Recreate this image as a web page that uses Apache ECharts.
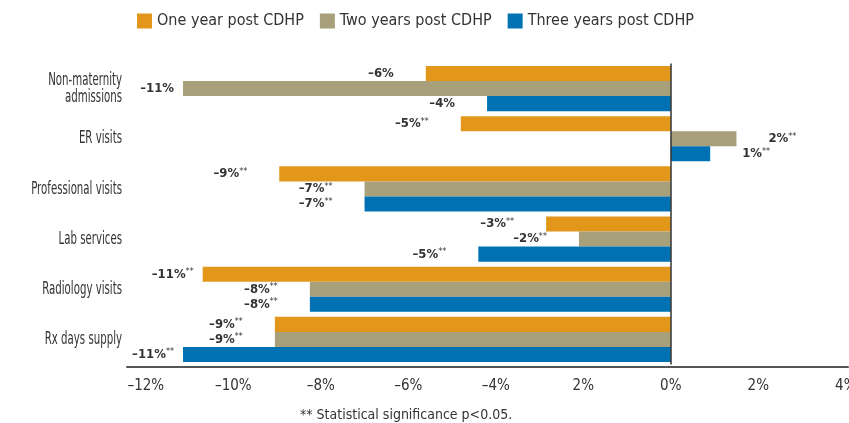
<!DOCTYPE html>
<html>
<head>
<meta charset="utf-8">
<script src="https://cdn.jsdelivr.net/npm/echarts@6/dist/echarts.min.js"></script>
<style>
  html, body { margin: 0; padding: 0; background: #fff; }
  #chart { width: 849px; height: 423px; }
</style>
</head>
<body>
<div id="chart"></div>
<script>
const categories = ['Non-maternity\nadmissions', 'ER visits', 'Professional visits', 'Lab services', 'Radiology visits', 'Rx days supply'];
const seriesNames = ['One year post CDHP', 'Two years post CDHP', 'Three years post CDHP'];

// bar lengths (percent change)
const oneYear = [-5.6, -4.8, -8.95, -2.85, -10.7, -9.05];
const twoYears = [-11.15, 1.5, -7.0, -2.1, -8.25, -9.05];
const threeYears = [-4.2, 0.9, -7.0, -4.4, -8.25, -11.15];

// printed labels and significance flags
const oneYearLabels = [-6, -5, -9, -3, -11, -9];
const twoYearsLabels = [-11, 2, -7, -2, -8, -9];
const threeYearsLabels = [-4, 1, -7, -5, -8, -11];
const oneYearSig = [false, true, true, true, true, true];
const twoYearsSig = [false, true, true, true, true, true];
const threeYearsSig = [false, true, true, true, true, true];

const tickValues = [-12, -10, -8, -6, -4, -2, 0, 2, 4];
const tickLabels = ['\u201312%', '\u201310%', '\u20138%', '\u20136%', '\u20134%', '2%', '0%', '2%', '4%'];

const colors = ['#E2961A', '#A89F7B', '#0072B4'];
const font = "'DejaVu Sans Condensed', 'Liberation Sans Narrow', sans-serif";

function makeSeries(name, values, labels, sig, color, withZero) {
  const s = {
    name: name,
    type: 'bar',
    barGap: '0%',
    barCategoryGap: '10%',
    itemStyle: { color: color },
    data: values.map((v, i) => ({
      value: v,
      label: {
        show: true,
        position: v < 0 ? 'left' : 'right',
        distance: v < -10 ? 9 : 32,
        formatter: () => {
          const n = labels[i];
          const txt = (n < 0 ? '\u2013' + Math.abs(n) : n) + '%';
          return '{v|' + txt + '}' + (sig[i] ? '{s|**}' : '');
        },
        rich: {
          v: { fontFamily: font, fontWeight: 'bold', fontSize: 13, color: '#333' },
          s: { fontFamily: font, fontSize: 9, color: '#333', padding: [0, 0, 5, 0] }
        }
      }
    }))
  };
  if (withZero) {
    s.markLine = {
      silent: true,
      symbol: 'none',
      label: { show: false },
      lineStyle: { color: '#333', width: 1.5, type: 'solid' },
      data: [{ xAxis: 0 }]
    };
  }
  return s;
}

const chart = echarts.init(document.getElementById('chart'), null, { renderer: 'canvas' });
chart.setOption({
  animation: false,
  legend: {
    top: 13,
    left: 137,
    padding: 0,
    icon: 'rect',
    itemWidth: 15,
    itemHeight: 15,
    itemGap: 16,
    textStyle: { fontFamily: font, fontSize: 16, color: '#333' },
    data: seriesNames
  },
  title: {
    text: '** Statistical significance p<0.05.',
    left: 295,
    top: 403,
    textStyle: { fontFamily: font, fontSize: 14, fontWeight: 'normal', color: '#333' }
  },
  grid: { left: 127, right: 1, top: 63.5, bottom: 423 - 364.5, containLabel: false, outerBoundsMode: 'none' },
  xAxis: {
    type: 'value',
    min: -12.43,
    max: 4.05,
    offset: 2,
    splitLine: { show: false },
    axisTick: { show: false },
    axisLine: { show: true, lineStyle: { color: '#555', width: 2 } },
    axisLabel: {
      customValues: tickValues,
      margin: 12,
      fontFamily: font,
      fontSize: 15,
      color: '#333',
      formatter: v => tickLabels[tickValues.indexOf(Math.round(v))]
    }
  },
  yAxis: {
    type: 'category',
    inverse: true,
    data: categories,
    axisLine: { show: false },
    axisTick: { show: false },
    axisLabel: { show: false }
  },
  series: [
    makeSeries(seriesNames[0], oneYear, oneYearLabels, oneYearSig, colors[0], true),
    makeSeries(seriesNames[1], twoYears, twoYearsLabels, twoYearsSig, colors[1], false),
    makeSeries(seriesNames[2], threeYears, threeYearsLabels, threeYearsSig, colors[2], false)
  ]
});

// category names as condensed text, placed on the category axis positions
const labelRight = 122;
chart.setOption({
  graphic: categories.map((c, i) => ({
    type: 'text',
    x: labelRight,
    y: chart.convertToPixel({ yAxisIndex: 0 }, i),
    scaleX: 0.63,
    silent: true,
    style: {
      text: c,
      align: 'right',
      verticalAlign: 'middle',
      fontFamily: font,
      fontSize: 18,
      lineHeight: 17,
      fill: '#333'
    }
  }))
});
</script>
</body>
</html>
